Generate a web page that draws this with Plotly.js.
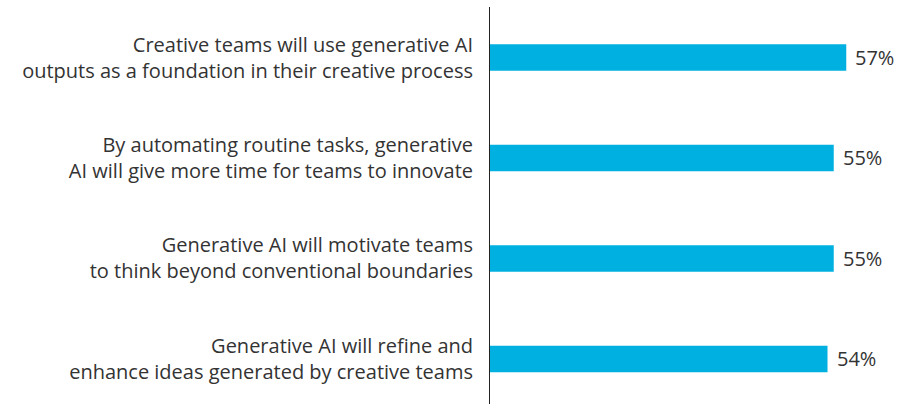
<!DOCTYPE html>
<html><head><meta charset="utf-8">
<script src="https://cdn.plot.ly/plotly-3.0.1.min.js"></script>
<style>html,body{margin:0;padding:0;background:#fff;}#chart{width:899px;height:404px;}</style>
</head><body><div id="chart"></div>
<script>
const categories = [
  "Creative teams will use generative AI<br>outputs as a foundation in their creative process",
  "By automating routine tasks, generative<br>AI will give more time for teams to innovate",
  "Generative AI will motivate teams<br>to think beyond conventional boundaries",
  "Generative AI will refine and<br>enhance ideas generated by creative teams"
];
const values = [57, 55, 55, 54];
const valueLabels = ["57%", "55%", "55%", "54%"];

const FONT = "'Open Sans', 'Noto Sans', sans-serif";
const trace = {
  type: "bar", orientation: "h",
  x: values, y: categories,
  marker: {color: "#00B0E0"},
  width: 0.265,
  hoverinfo: "none"
};
const annotations = values.map((v, i) => ({
  x: v, y: categories[i], xref: "x", yref: "y",
  text: valueLabels[i], showarrow: false,
  xanchor: "left", xshift: 7, yshift: 0,
  font: {family: FONT, size: 20, color: "#333"}
}));
const layout = {
  width: 899, height: 404,
  margin: {l: 490, r: 0, t: 7, b: 0},
  paper_bgcolor: "#fff", plot_bgcolor: "#fff",
  showlegend: false,
  font: {family: FONT, size: 20, color: "#333"},
  xaxis: {range: [0, 65.44], visible: false, fixedrange: true},
  yaxis: {
    type: "category", range: [3.448, -0.5025],
    showgrid: false, zeroline: false,
    showline: true, linecolor: "#222", linewidth: 1,
    ticks: "", ticklabelstandoff: 12,
    tickfont: {family: FONT, size: 20, color: "#333"}
  },
  annotations: annotations
};
Plotly.newPlot("chart", [trace], layout, {staticPlot: true, displayModeBar: false});
</script></body></html>
